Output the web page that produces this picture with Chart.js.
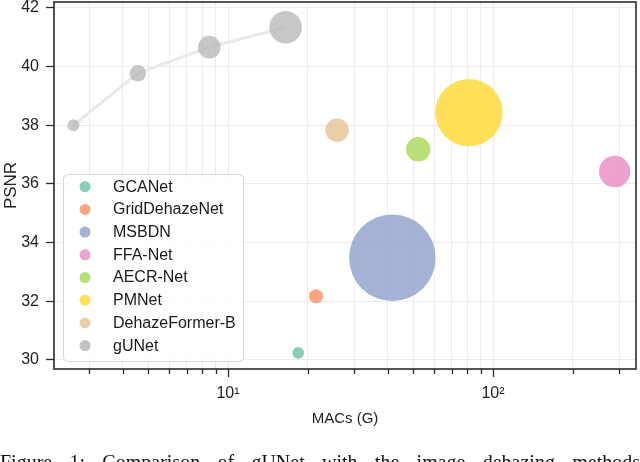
<!DOCTYPE html>
<html><head><meta charset="utf-8">
<script src="https://cdn.jsdelivr.net/npm/chart.js@4.4.0/dist/chart.umd.min.js"></script>
<style>
html,body{margin:0;padding:0;background:#fff;overflow:hidden;}
#wrap{position:relative;width:640px;height:462px;overflow:hidden;}
canvas{display:block;}
#cap{position:absolute;left:0;top:451px;width:640px;font-family:"Liberation Serif",serif;font-size:20px;white-space:nowrap;color:#111;text-align:justify;text-align-last:justify;}
</style></head><body>
<div id="wrap"><canvas id="c" width="640" height="462"></canvas><div id="cap">Figure 1: Comparison of gUNet with the image dehazing methods</div></div>
<script>
// ---- data ----
const models = ['GCANet','GridDehazeNet','MSBDN','FFA-Net','AECR-Net','PMNet','DehazeFormer-B','gUNet'];
const macs   = [18.41, 21.49, 41.7, 287.8, 52.2, 81.13, 25.79];      // GMACs
const psnr   = [30.24, 32.17, 33.48, 36.42, 37.18, 38.43, 37.83];     // dB
const params = [0.56, 0.82, 31.35, 4.12, 2.49, 19.0, 2.29];          // M (bubble area)
const gunetMacs   = [2.61, 4.57, 8.5, 16.5];
const gunetPsnr   = [38.0, 39.77, 40.66, 41.34];
const gunetParams = [0.60, 1.15, 2.14, 4.45];
const xTickValues = [3,4,5,6,7,8,9,10,20,30,40,50,60,70,80,90,100,200,300];
const xMajor = [10,100];
const yTickValues = [30,32,34,36,38,40,42];

// ---- styles ----
const palette = ['#66c2a5','#fc8d62','#8da0cb','#e78ac3','#a6d854','#ffd92f','#e5c494','#b3b3b3'];
function rgba(hex,a){const n=parseInt(hex.slice(1),16);return `rgba(${n>>16},${(n>>8)&255},${n&255},${a})`;}
const R_SCALE = 7.73;
const rOf = p => Math.sqrt(p)*R_SCALE;
const ALPHA = 0.8;
const DARK = '#2b2b2b';
const GRID = '#ebebeb';

Chart.defaults.font.family = '"Liberation Sans", Arial, sans-serif';
Chart.defaults.color = '#1e1e1e';

const datasets = [];
for (let i=0;i<macs.length;i++){
  datasets.push({type:'bubble',label:models[i],data:[{x:macs[i],y:psnr[i],r:rOf(params[i])}],
    backgroundColor:rgba(palette[i],ALPHA),borderWidth:0,hoverBorderWidth:0,order:0});
}
datasets.push({type:'bubble',label:models[7],
  data:gunetMacs.map((x,i)=>({x,y:gunetPsnr[i],r:rOf(gunetParams[i])})),
  backgroundColor:rgba(palette[7],0.72),borderWidth:0,hoverBorderWidth:0,order:0});
datasets.push({type:'line',label:'_gunet_line',data:gunetMacs.map((x,i)=>({x,y:gunetPsnr[i]})),
  borderColor:'#e9e9e9',borderWidth:3,pointRadius:0,fill:false,tension:0,order:10});

const overlay = {
  id:'overlay',
  afterDraw(chart){
    const ctx = chart.ctx, a = chart.chartArea, xs = chart.scales.x;
    ctx.save();
    // x tick marks
    ctx.strokeStyle = DARK; ctx.lineWidth = 1.3;
    xTickValues.forEach(v=>{
      const px = Math.round(xs.getPixelForValue(v))+0.5;
      const len = xMajor.includes(v)?8:5;
      ctx.beginPath(); ctx.moveTo(px,a.bottom); ctx.lineTo(px,a.bottom+len); ctx.stroke();
    });
    // frame
    ctx.lineWidth = 1.6; ctx.strokeStyle = DARK;
    ctx.strokeRect(a.left, a.top, a.right-a.left, a.bottom-a.top);
    // legend
    const lx = a.left+9, ly = a.top+172, lw = 180, lh = 187;
    ctx.beginPath();
    ctx.roundRect(lx+0.5, ly+0.5, lw, lh, 4);
    ctx.fillStyle = 'rgba(255,255,255,0.8)'; ctx.fill();
    ctx.strokeStyle = '#d6d6d6'; ctx.lineWidth = 1; ctx.stroke();
    ctx.font = '16px "Liberation Sans", Arial, sans-serif';
    ctx.textBaseline = 'middle'; ctx.textAlign = 'left';
    models.forEach((m,i)=>{
      const cy = ly + 12.7 + i*22.7;
      ctx.beginPath(); ctx.arc(lx+22, cy, 5.5, 0, Math.PI*2);
      ctx.fillStyle = rgba(palette[i],ALPHA); ctx.fill();
      ctx.fillStyle = '#1a1a1a';
      ctx.fillText(m, lx+50, cy+0.5);
    });
    ctx.restore();
  }
};

new Chart(document.getElementById('c'), {
  type:'bubble',
  data:{datasets},
  options:{
    responsive:false, animation:false, devicePixelRatio:1,
    layout:{autoPadding:false,padding:{top:2,right:4,left:0,bottom:0}},
    plugins:{legend:{display:false},tooltip:{enabled:false}},
    events:[],
    scales:{
      x:{type:'logarithmic',min:2.205,max:346.4,
        afterBuildTicks:s=>{s.ticks = xTickValues.map(v=>({value:v,major:xMajor.includes(v)}));},
        afterFit:s=>{s.height = 93; s.paddingLeft = 0; s.paddingRight = 0;},
        grid:{color:GRID,lineWidth:1,drawTicks:false},
        border:{display:false},
        ticks:{autoSkip:false,maxRotation:0,padding:15,font:{size:16},color:'#1e1e1e',
          callback:v=> v===10?'10¹':(v===100?'10²':'')},
        title:{display:true,text:'MACs (G)',font:{size:15},color:'#1e1e1e',padding:{top:0,bottom:34}}
      },
      y:{type:'linear',min:29.69,max:42.2,
        afterBuildTicks:s=>{s.ticks = yTickValues.map(v=>({value:v}));},
        afterFit:s=>{s.width = 54; s.paddingTop = 0; s.paddingBottom = 0;},
        grid:{color:GRID,lineWidth:1,drawTicks:true,tickLength:8,tickColor:DARK,tickWidth:1.3},
        border:{display:false},
        ticks:{padding:7,font:{size:16},color:'#1e1e1e',callback:v=>String(v)},
        title:{display:true,text:'PSNR',font:{size:17},color:'#1e1e1e',padding:{top:1,bottom:0}}
      }
    }
  },
  plugins:[overlay]
});
</script>
</body></html>
